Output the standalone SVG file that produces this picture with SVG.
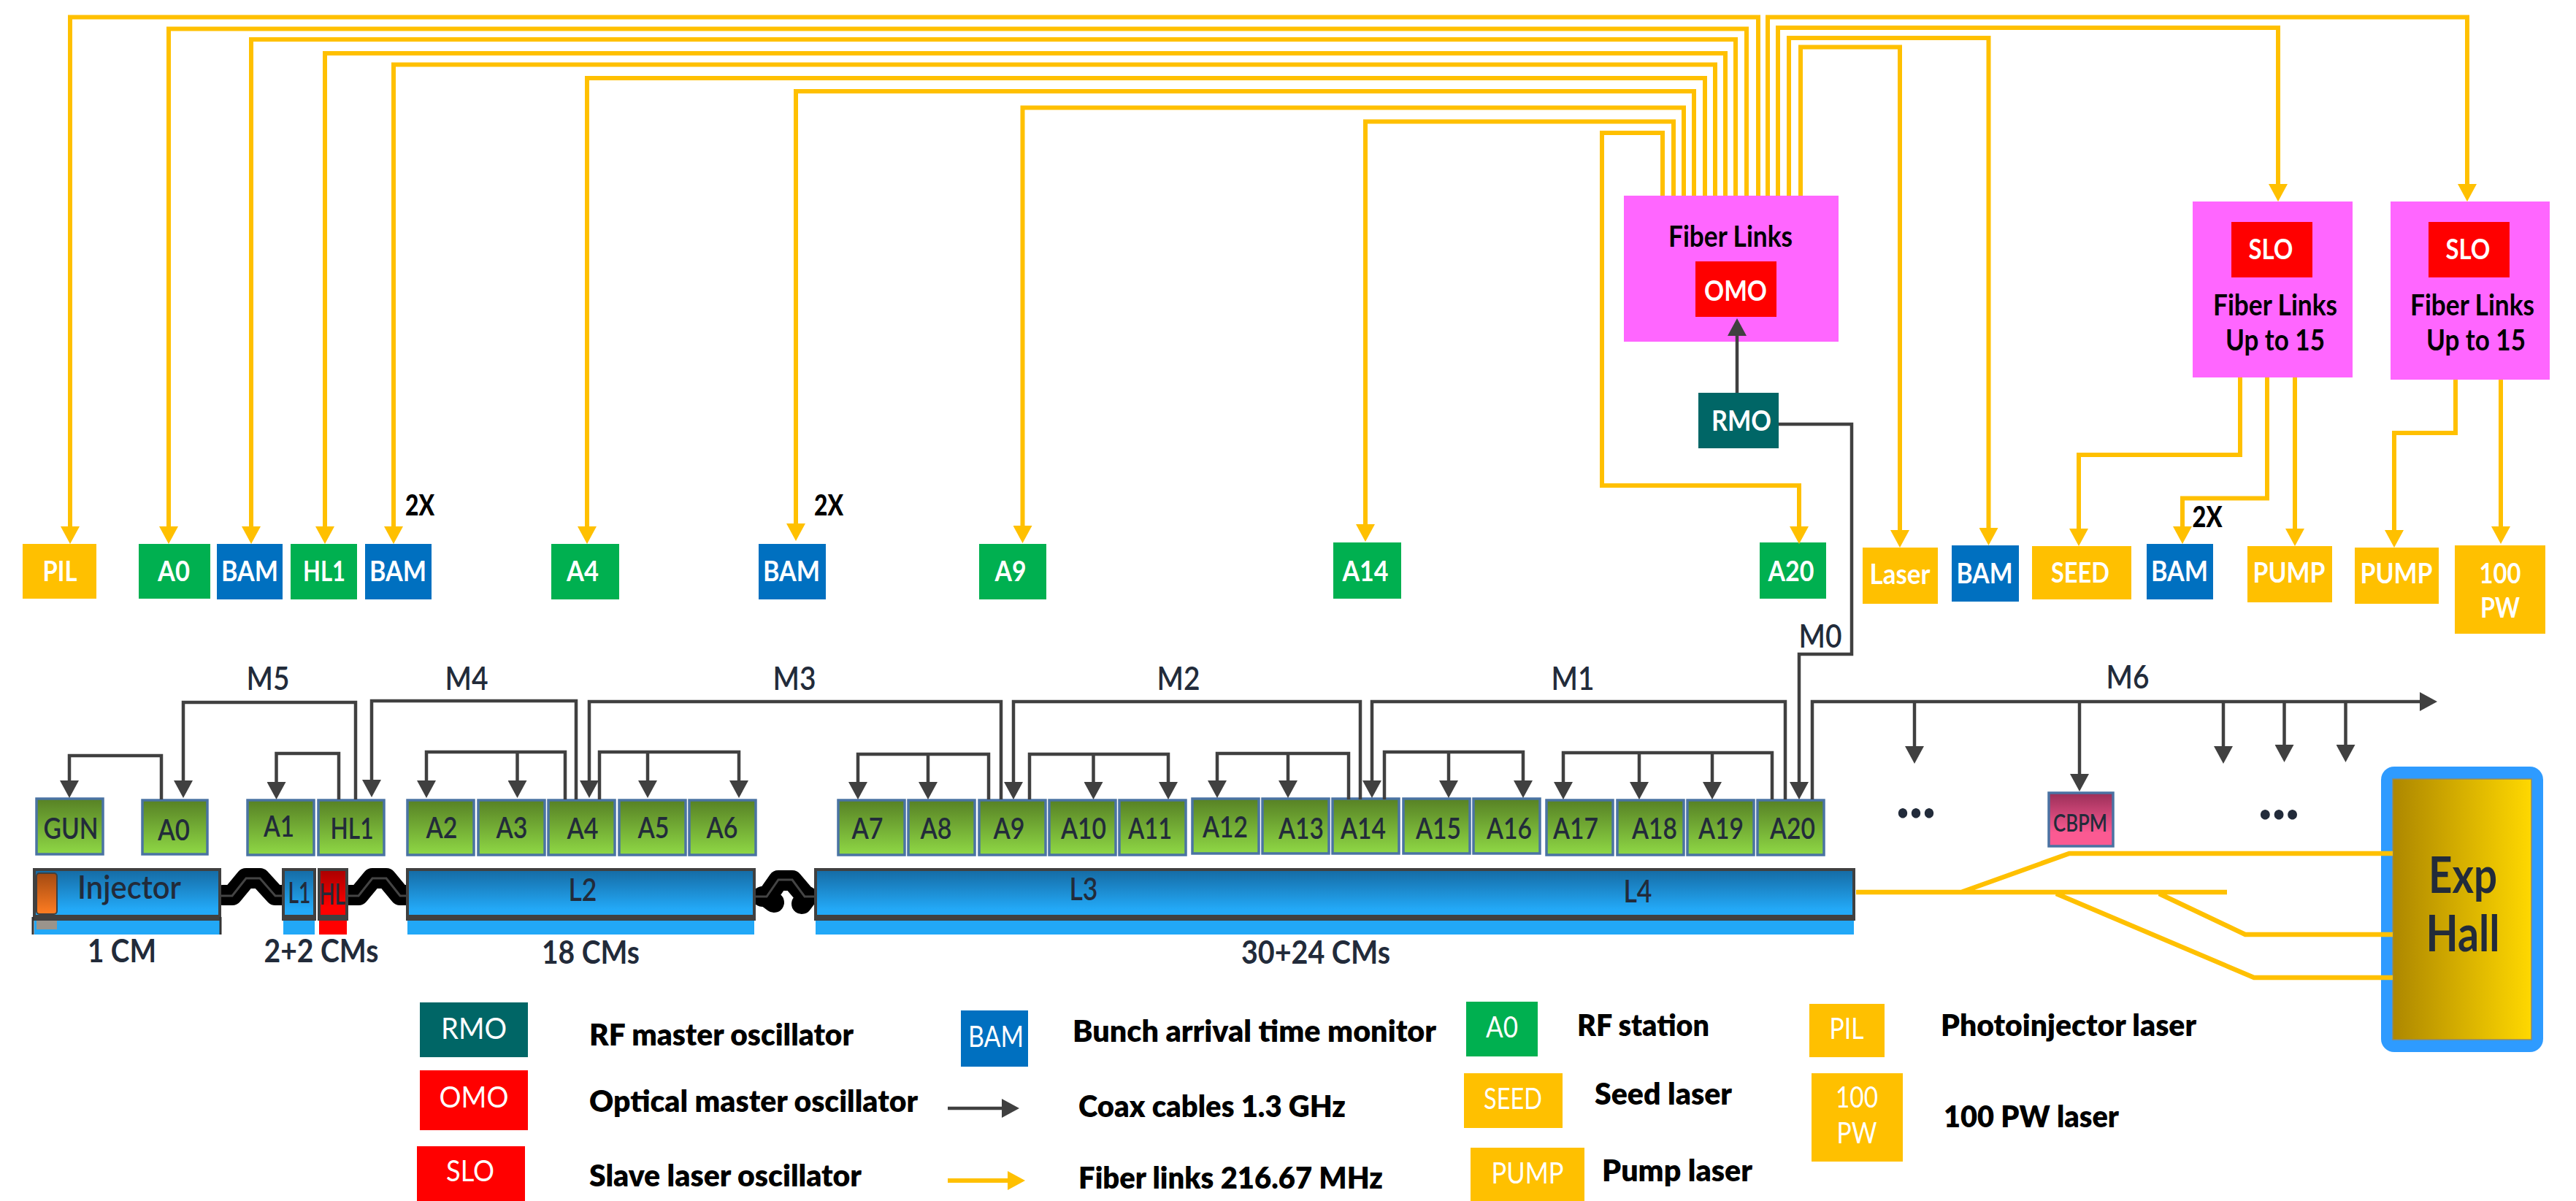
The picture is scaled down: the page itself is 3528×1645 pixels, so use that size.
<svg xmlns="http://www.w3.org/2000/svg" width="3528" height="1645" viewBox="0 0 3528 1645">
<style>
text{font-family:Lato,"Liberation Sans",Arial,sans-serif;text-anchor:middle}
.w{font-size:39px;font-weight:700;fill:#fff}
.wl{font-size:40px;font-weight:400;fill:#fff}
.d{font-size:40px;font-weight:600;fill:#222b3a}
.m{font-size:44px;font-weight:600;fill:#222b3a}
.c{font-size:43px;font-weight:700;fill:#222b3a}
.k{font-size:40px;font-weight:700;fill:#000}
.ks{font-size:40px;font-weight:900;fill:#000}
.l{font-size:41px;font-weight:800;fill:#000;text-anchor:start}
.y{fill:#FFC000}.g{fill:#00B050}.b{fill:#0070C0}.r{fill:#FF0000}.t{fill:#006666}.p{fill:#FF66FF}
.cav{fill:url(#gBox);stroke:#4a73a3;stroke-width:3.5}
.top{fill:url(#gBlue);stroke:#404040;stroke-width:4}
.topr{fill:url(#gRed);stroke:#404040;stroke-width:4}
.bot{fill:#22a8f7}
.band{fill:#404040}
.fib{fill:none;stroke:#FFC000;stroke-width:6;marker-end:url(#ya)}
.fn{fill:none;stroke:#FFC000;stroke-width:6.5}
.coax{fill:none;stroke:#404040;stroke-width:4.5;marker-end:url(#da)}
.sq{fill:none;stroke:#000;stroke-width:28;stroke-linejoin:round;stroke-linecap:round}
.sqi{fill:none;stroke:#444;stroke-width:3}
</style>
<defs>
<linearGradient id="gBox" x1="0" y1="0" x2="0" y2="1"><stop offset="0" stop-color="#578125"/><stop offset="1" stop-color="#8fd845"/></linearGradient>
<linearGradient id="gBlue" x1="0" y1="0" x2="0" y2="1"><stop offset="0" stop-color="#156aa3"/><stop offset=".85" stop-color="#23a9f7"/><stop offset="1" stop-color="#23a9f7"/></linearGradient>
<linearGradient id="gRed" x1="0" y1="0" x2="0" y2="1"><stop offset="0" stop-color="#a80000"/><stop offset=".8" stop-color="#ff0000"/><stop offset="1" stop-color="#ff0000"/></linearGradient>
<linearGradient id="gOr" x1="0" y1="0" x2="0" y2="1"><stop offset="0" stop-color="#a34a12"/><stop offset="1" stop-color="#ff7d22"/></linearGradient>
<linearGradient id="gPink" x1="0" y1="0" x2="0" y2="1"><stop offset="0" stop-color="#9a2f58"/><stop offset=".75" stop-color="#fb5a92"/><stop offset="1" stop-color="#fb5a92"/></linearGradient>
<linearGradient id="gHall" x1="0" y1="0" x2="1" y2="0"><stop offset="0" stop-color="#ad8700"/><stop offset="1" stop-color="#ffd800"/></linearGradient>
<marker id="ya" markerUnits="userSpaceOnUse" markerWidth="26" markerHeight="26" viewBox="0 0 26 26" refX="14" refY="13" orient="auto"><path d="M0 0L24 13L0 26z" fill="#FFC000"/></marker>
<marker id="da" markerUnits="userSpaceOnUse" markerWidth="26" markerHeight="26" viewBox="0 0 26 26" refX="14" refY="13" orient="auto"><path d="M0 0L24 13L0 26z" fill="#404040"/></marker>
</defs>

<g id="top-nodes">
<g id="n-pil"><rect class="y" x="31" y="745" width="101" height="75"/><text class="w" x="82" y="796" textLength="47" lengthAdjust="spacingAndGlyphs">PIL</text></g>
<g id="n-a0"><rect class="g" x="190" y="745" width="98" height="75"/><text class="w" x="238" y="796" textLength="44" lengthAdjust="spacingAndGlyphs">A0</text></g>
<g id="n-bam1"><rect class="b" x="297" y="745" width="90" height="76"/><text class="w" x="342" y="796" textLength="78" lengthAdjust="spacingAndGlyphs">BAM</text></g>
<g id="n-hl1"><rect class="g" x="398" y="745" width="91" height="76"/><text class="w" x="444" y="796" textLength="58" lengthAdjust="spacingAndGlyphs">HL1</text></g>
<g id="n-bam2"><rect class="b" x="500" y="745" width="91" height="76"/><text class="w" x="545" y="796" textLength="78" lengthAdjust="spacingAndGlyphs">BAM</text><text class="ks" x="575" y="706" textLength="40" lengthAdjust="spacingAndGlyphs">2X</text></g>
<g id="n-a4"><rect class="g" x="755" y="745" width="93" height="76"/><text class="w" x="798" y="796" textLength="44" lengthAdjust="spacingAndGlyphs">A4</text></g>
<g id="n-bam3"><rect class="b" x="1039" y="745" width="92" height="76"/><text class="w" x="1084" y="796" textLength="78" lengthAdjust="spacingAndGlyphs">BAM</text><text class="ks" x="1135" y="706" textLength="40" lengthAdjust="spacingAndGlyphs">2X</text></g>
<g id="n-a9"><rect class="g" x="1341" y="745" width="92" height="76"/><text class="w" x="1384" y="796" textLength="43" lengthAdjust="spacingAndGlyphs">A9</text></g>
<g id="n-a14"><rect class="g" x="1826" y="743" width="93" height="77"/><text class="w" x="1870" y="796" textLength="63" lengthAdjust="spacingAndGlyphs">A14</text></g>
<g id="n-a20"><rect class="g" x="2410" y="743" width="91" height="77"/><text class="w" x="2453" y="796" textLength="63" lengthAdjust="spacingAndGlyphs">A20</text></g>
<g id="n-laser"><rect class="y" x="2551" y="750" width="103" height="77"/><text class="w" x="2602" y="800" textLength="83" lengthAdjust="spacingAndGlyphs">Laser</text></g>
<g id="n-bam4"><rect class="b" x="2673" y="747" width="92" height="77"/><text class="w" x="2718" y="799" textLength="77" lengthAdjust="spacingAndGlyphs">BAM</text></g>
<g id="n-seed"><rect class="y" x="2783" y="748" width="136" height="73"/><text class="w" x="2849" y="798" textLength="80" lengthAdjust="spacingAndGlyphs">SEED</text></g>
<g id="n-bam5"><rect class="b" x="2940" y="745" width="91" height="76"/><text class="w" x="2985" y="796" textLength="78" lengthAdjust="spacingAndGlyphs">BAM</text><text class="ks" x="3023" y="722" textLength="41" lengthAdjust="spacingAndGlyphs">2X</text></g>
<g id="n-pump1"><rect class="y" x="3078" y="748" width="116" height="77"/><text class="w" x="3135" y="798" textLength="99" lengthAdjust="spacingAndGlyphs">PUMP</text></g>
<g id="n-pump2"><rect class="y" x="3225" y="750" width="115" height="77"/><text class="w" x="3282" y="799" textLength="99" lengthAdjust="spacingAndGlyphs">PUMP</text></g>
<g id="n-100pw"><rect class="y" x="3362" y="747" width="124" height="121"/><text class="w" x="3424" y="799" textLength="57" lengthAdjust="spacingAndGlyphs">100</text><text class="w" x="3424" y="846" textLength="54" lengthAdjust="spacingAndGlyphs">PW</text></g>
<g id="n-omo-box"><rect class="p" x="2224" y="268" width="294" height="200"/><text class="k" x="2370" y="338" textLength="170" lengthAdjust="spacingAndGlyphs">Fiber Links</text><rect class="r" x="2322" y="358" width="111" height="76"/><text class="w" x="2377" y="412" textLength="86" lengthAdjust="spacingAndGlyphs">OMO</text></g>
<g id="n-rmo"><rect class="t" x="2326" y="538" width="110" height="76"/><text class="w" x="2385" y="590" textLength="82" lengthAdjust="spacingAndGlyphs">RMO</text></g>
<g id="n-slo1"><rect class="p" x="3003" y="276" width="219" height="241"/><rect class="r" x="3056" y="304" width="111" height="76"/><text class="w" x="3110" y="355" textLength="61" lengthAdjust="spacingAndGlyphs">SLO</text><text class="k" x="3116" y="432" textLength="170" lengthAdjust="spacingAndGlyphs">Fiber Links</text><text class="k" x="3116" y="480" textLength="136" lengthAdjust="spacingAndGlyphs">Up to 15</text></g>
<g id="n-slo2"><rect class="p" x="3274" y="276" width="218" height="244"/><rect class="r" x="3326" y="304" width="111" height="76"/><text class="w" x="3380" y="355" textLength="61" lengthAdjust="spacingAndGlyphs">SLO</text><text class="k" x="3386" y="432" textLength="170" lengthAdjust="spacingAndGlyphs">Fiber Links</text><text class="k" x="3391" y="480" textLength="136" lengthAdjust="spacingAndGlyphs">Up to 15</text></g>
</g>

<g id="cavities">
<g id="c-gun"><rect class="cav" x="50" y="1094" width="91" height="76"/><text class="d" x="97" y="1149" textLength="75" lengthAdjust="spacingAndGlyphs">GUN</text></g>
<g id="c-a0"><rect class="cav" x="195" y="1096" width="89" height="74"/><text class="d" x="238" y="1151" textLength="44" lengthAdjust="spacingAndGlyphs">A0</text></g>
<g id="c-a1"><rect class="cav" x="339" y="1096" width="91" height="75"/><text class="d" x="382" y="1146" textLength="42" lengthAdjust="spacingAndGlyphs">A1</text></g>
<g id="c-hl1"><rect class="cav" x="436" y="1096" width="90" height="75"/><text class="d" x="482" y="1149" textLength="59" lengthAdjust="spacingAndGlyphs">HL1</text></g>
<g id="c-a2"><rect class="cav" x="558" y="1096" width="91" height="75"/><text class="d" x="605" y="1148" textLength="43" lengthAdjust="spacingAndGlyphs">A2</text></g>
<g id="c-a3"><rect class="cav" x="655" y="1096" width="91" height="75"/><text class="d" x="701" y="1148" textLength="43" lengthAdjust="spacingAndGlyphs">A3</text></g>
<g id="c-a4"><rect class="cav" x="751" y="1096" width="91" height="75"/><text class="d" x="798" y="1149" textLength="43" lengthAdjust="spacingAndGlyphs">A4</text></g>
<g id="c-a5"><rect class="cav" x="848" y="1096" width="91" height="75"/><text class="d" x="895" y="1148" textLength="43" lengthAdjust="spacingAndGlyphs">A5</text></g>
<g id="c-a6"><rect class="cav" x="944" y="1096" width="91" height="75"/><text class="d" x="989" y="1148" textLength="43" lengthAdjust="spacingAndGlyphs">A6</text></g>
<g id="c-a7"><rect class="cav" x="1148" y="1096" width="91" height="75"/><text class="d" x="1188" y="1149" textLength="43" lengthAdjust="spacingAndGlyphs">A7</text></g>
<g id="c-a8"><rect class="cav" x="1244" y="1096" width="91" height="75"/><text class="d" x="1282" y="1149" textLength="43" lengthAdjust="spacingAndGlyphs">A8</text></g>
<g id="c-a9"><rect class="cav" x="1341" y="1096" width="91" height="75"/><text class="d" x="1382" y="1149" textLength="43" lengthAdjust="spacingAndGlyphs">A9</text></g>
<g id="c-a10"><rect class="cav" x="1437" y="1096" width="91" height="75"/><text class="d" x="1484" y="1149" textLength="62" lengthAdjust="spacingAndGlyphs">A10</text></g>
<g id="c-a11"><rect class="cav" x="1533" y="1096" width="91" height="75"/><text class="d" x="1575" y="1149" textLength="60" lengthAdjust="spacingAndGlyphs">A11</text></g>
<g id="c-a12"><rect class="cav" x="1633" y="1094" width="91" height="75"/><text class="d" x="1678" y="1147" textLength="62" lengthAdjust="spacingAndGlyphs">A12</text></g>
<g id="c-a13"><rect class="cav" x="1729" y="1094" width="91" height="75"/><text class="d" x="1782" y="1149" textLength="62" lengthAdjust="spacingAndGlyphs">A13</text></g>
<g id="c-a14"><rect class="cav" x="1825" y="1094" width="91" height="75"/><text class="d" x="1867" y="1149" textLength="62" lengthAdjust="spacingAndGlyphs">A14</text></g>
<g id="c-a15"><rect class="cav" x="1922" y="1094" width="91" height="75"/><text class="d" x="1970" y="1149" textLength="62" lengthAdjust="spacingAndGlyphs">A15</text></g>
<g id="c-a16"><rect class="cav" x="2018" y="1094" width="91" height="75"/><text class="d" x="2067" y="1149" textLength="62" lengthAdjust="spacingAndGlyphs">A16</text></g>
<g id="c-a17"><rect class="cav" x="2118" y="1096" width="91" height="75"/><text class="d" x="2158" y="1149" textLength="62" lengthAdjust="spacingAndGlyphs">A17</text></g>
<g id="c-a18"><rect class="cav" x="2215" y="1096" width="91" height="75"/><text class="d" x="2266" y="1149" textLength="62" lengthAdjust="spacingAndGlyphs">A18</text></g>
<g id="c-a19"><rect class="cav" x="2311" y="1096" width="91" height="75"/><text class="d" x="2357" y="1149" textLength="62" lengthAdjust="spacingAndGlyphs">A19</text></g>
<g id="c-a20"><rect class="cav" x="2407" y="1096" width="91" height="75"/><text class="d" x="2455" y="1149" textLength="62" lengthAdjust="spacingAndGlyphs">A20</text></g>
<g id="c-cbpm"><rect x="2806" y="1086" width="88" height="73" fill="url(#gPink)" stroke="#4a73a3" stroke-width="3.5"/><text class="d" x="2849" y="1139" style="font-size:32px" textLength="74" lengthAdjust="spacingAndGlyphs">CBPM</text></g>
</g>

<g id="linac">
<path class="sq" d="M305 1226H318L337 1203H356L377 1226H386"/><path class="sqi" d="M303 1227H318L337 1203H356L377 1227H387"/>
<path class="sq" d="M478 1226H491L510 1203H529L548 1226H556"/><path class="sqi" d="M476 1227H491L510 1203H529L548 1227H558"/>
<path class="sq" d="M1044 1228L1052 1226L1066 1206H1085L1102 1226L1106 1228M1052 1230L1060 1236M1104 1230L1098 1238"/><path class="sqi" d="M1034 1228H1050L1066 1205H1085L1102 1228H1116"/>
<g id="n-injector"><rect class="top" x="47" y="1191" width="254" height="64"/><rect class="bot" x="47" y="1261" width="254" height="19"/><rect x="50" y="1196" width="28" height="56" rx="4" fill="url(#gOr)" stroke="#404040" stroke-width="2"/><rect x="50" y="1257" width="28" height="16" fill="#b98e70" opacity=".8"/><rect class="band" x="45" y="1254" width="258" height="7"/><path d="M45 1256V1280M302 1256V1280" stroke="#333" stroke-width="3"/><text class="d" x="177" y="1231" textLength="142" lengthAdjust="spacingAndGlyphs" style="font-size:44px">Injector</text></g>
<g id="n-l1"><rect class="top" x="388" y="1191" width="43" height="64"/><rect class="bot" x="388" y="1261" width="43" height="19"/><rect class="band" x="386" y="1254" width="47" height="7"/><text class="d" x="410" y="1237" textLength="31" lengthAdjust="spacingAndGlyphs">L1</text></g>
<g id="n-hl"><rect class="topr" x="437" y="1191" width="38" height="64"/><rect x="437" y="1261" width="38" height="19" fill="#f00"/><rect class="band" x="435" y="1254" width="42" height="7"/><text class="d" x="455" y="1239" textLength="35" lengthAdjust="spacingAndGlyphs">HL</text></g>
<g id="n-l2"><rect class="top" x="558" y="1191" width="475" height="64"/><rect class="bot" x="558" y="1261" width="475" height="19"/><rect class="band" x="556" y="1254" width="479" height="7"/><text class="d" x="798" y="1234" textLength="39" lengthAdjust="spacingAndGlyphs" style="font-size:42px">L2</text></g>
<g id="n-l34"><rect class="top" x="1117" y="1191" width="1422" height="64"/><rect class="bot" x="1117" y="1261" width="1422" height="19"/><rect class="band" x="1115" y="1254" width="1426" height="7"/><text class="d" x="1484" y="1233" textLength="39" lengthAdjust="spacingAndGlyphs" style="font-size:42px">L3</text><text class="d" x="2243" y="1236" textLength="39" lengthAdjust="spacingAndGlyphs" style="font-size:42px">L4</text></g>
<g id="n-hall"><rect x="3261" y="1050" width="222" height="391" rx="18" fill="#2e9bff"/><rect x="3277" y="1067" width="190" height="357" fill="url(#gHall)" stroke="#8a8a70" stroke-width="1.5"/><text x="3373" y="1223" textLength="94" lengthAdjust="spacingAndGlyphs" style="font-size:68px;font-weight:700;fill:#222b3a">Exp</text><text x="3373" y="1303" textLength="101" lengthAdjust="spacingAndGlyphs" style="font-size:68px;font-weight:700;fill:#222b3a">Hall</text></g>
<text class="c" x="167" y="1318" textLength="94" lengthAdjust="spacingAndGlyphs">1 CM</text>
<text class="c" x="440" y="1318" textLength="157" lengthAdjust="spacingAndGlyphs">2+2 CMs</text>
<text class="c" x="809" y="1320" textLength="134" lengthAdjust="spacingAndGlyphs">18 CMs</text>
<text class="c" x="1802" y="1320" textLength="204" lengthAdjust="spacingAndGlyphs">30+24 CMs</text>
<text class="m" x="367" y="945" textLength="59" lengthAdjust="spacingAndGlyphs">M5</text>
<text class="m" x="639" y="945" textLength="59" lengthAdjust="spacingAndGlyphs">M4</text>
<text class="m" x="1088" y="945" textLength="59" lengthAdjust="spacingAndGlyphs">M3</text>
<text class="m" x="1614" y="945" textLength="59" lengthAdjust="spacingAndGlyphs">M2</text>
<text class="m" x="2154" y="945" textLength="59" lengthAdjust="spacingAndGlyphs">M1</text>
<text class="m" x="2914" y="943" textLength="59" lengthAdjust="spacingAndGlyphs">M6</text>
<text class="m" x="2493" y="887" textLength="59" lengthAdjust="spacingAndGlyphs">M0</text>
<text x="2624" y="1120" textLength="54" lengthAdjust="spacingAndGlyphs" style="font-size:84px;font-weight:900;fill:#222b3a">...</text>
<text x="3121" y="1122" textLength="56" lengthAdjust="spacingAndGlyphs" style="font-size:84px;font-weight:900;fill:#222b3a">...</text>
</g>

<g id="connectors">
<path class="fib" d="M2408 268V23.5H96V735"/>
<path class="fib" d="M2392 268V39.5H231V735"/>
<path class="fib" d="M2377 268V54H344V735"/>
<path class="fib" d="M2363 268V73H445V735"/>
<path class="fib" d="M2349 268V88.5H539V735"/>
<path class="fib" d="M2335 268V107H804V735"/>
<path class="fib" d="M2320 268V125H1090V731"/>
<path class="fib" d="M2306 268V147.5H1400.500V734"/>
<path class="fib" d="M2292 268V166.500H1870V732"/>
<path class="fib" d="M2277 268V182H2194V665H2464V735"/>
<path class="fib" d="M2421 268V23.500H3379V266"/>
<path class="fib" d="M2435 268V38H3120V266"/>
<path class="fib" d="M2450 268V52H2723.500V737"/>
<path class="fib" d="M2466 268V64.500H2602V740"/>
<path class="fib" d="M3068 517V623H2847V738"/>
<path class="fib" d="M3105 517V682.500H2989V735"/>
<path class="fib" d="M3143 517V738"/>
<path class="fib" d="M3363 520V593H3279V740"/>
<path class="fib" d="M3425 520V735"/>
<path class="fn" d="M2542 1222H3050M2686 1222L2834 1169H3277M2816 1224L3087 1339H3277M2957 1224L3075 1280H3277"/>
<path class="coax" d="M2379 538V446"/>
<path class="coax" d="M2436 581H2536V896H2464V1085"/>
<path class="coax" d="M221 1095V1035H95V1083"/>
<path class="coax" d="M487 1095V962H251V1083"/>
<path class="coax" d="M464 1095V1032H378.500V1085"/>
<path class="coax" d="M789 1095V960H509V1082"/>
<path class="coax" d="M774 1095V1030H584V1083"/>
<path class="coax" d="M708.500 1030V1083"/>
<path class="coax" d="M821 1095V1030H1012V1083"/>
<path class="coax" d="M887 1030V1083"/>
<path class="coax" d="M1371 1095V961H807V1083"/>
<path class="coax" d="M1354 1095V1033H1175V1085"/>
<path class="coax" d="M1271 1033V1085"/>
<path class="coax" d="M1863 1095V961H1388V1085"/>
<path class="coax" d="M1410 1095V1033H1600V1085"/>
<path class="coax" d="M1497.500 1033V1085"/>
<path class="coax" d="M1847 1095V1032H1667V1083"/>
<path class="coax" d="M1764 1032V1083"/>
<path class="coax" d="M2445 1095V961H1879V1083"/>
<path class="coax" d="M1896 1095V1030H2086V1083"/>
<path class="coax" d="M1984 1030V1083"/>
<path class="coax" d="M2427 1095V1031H2141V1085"/>
<path class="coax" d="M2245 1031V1085"/>
<path class="coax" d="M2345 1031V1085"/>
<path class="coax" d="M2482 1095V961H3328"/>
<path class="coax" d="M2622 961V1036"/>
<path class="coax" d="M2848 961V1074"/>
<path class="coax" d="M3045 961V1036"/>
<path class="coax" d="M3128.500 961V1034"/>
<path class="coax" d="M3212.500 961V1034"/>
</g>

<g id="legend">
<g id="l-rmo"><rect class="t" x="575" y="1373" width="148" height="75"/><text class="wl" x="649" y="1423" textLength="90" lengthAdjust="spacingAndGlyphs">RMO</text></g>
<text class="l" x="807" y="1432" textLength="362" lengthAdjust="spacingAndGlyphs">RF master oscillator</text>
<g id="l-omo"><rect class="r" x="575" y="1466" width="148" height="82"/><text class="wl" x="649" y="1517" textLength="95" lengthAdjust="spacingAndGlyphs">OMO</text></g>
<text class="l" x="807" y="1523" textLength="450" lengthAdjust="spacingAndGlyphs">Optical master oscillator</text>
<g id="l-slo"><rect class="r" x="571" y="1570" width="148" height="75"/><text class="wl" x="644" y="1618" textLength="66" lengthAdjust="spacingAndGlyphs">SLO</text></g>
<text class="l" x="807" y="1625" textLength="373" lengthAdjust="spacingAndGlyphs">Slave laser oscillator</text>
<g id="l-bam"><rect class="b" x="1316" y="1384" width="92" height="77"/><text class="wl" x="1364" y="1434" textLength="76" lengthAdjust="spacingAndGlyphs">BAM</text></g>
<text class="l" x="1469" y="1427" textLength="498" lengthAdjust="spacingAndGlyphs">Bunch arrival time monitor</text>
<path class="coax" d="M1298 1518H1386"/>
<text class="l" x="1477" y="1530" textLength="366" lengthAdjust="spacingAndGlyphs">Coax cables 1.3 GHz</text>
<path class="fib" d="M1298 1617H1394"/>
<text class="l" x="1477" y="1628" textLength="417" lengthAdjust="spacingAndGlyphs">Fiber links 216.67 MHz</text>
<g id="l-a0"><rect class="g" x="2008" y="1372" width="98" height="75"/><text class="wl" x="2057" y="1421" textLength="44" lengthAdjust="spacingAndGlyphs">A0</text></g>
<text class="l" x="2160" y="1419" textLength="181" lengthAdjust="spacingAndGlyphs">RF station</text>
<g id="l-seed"><rect class="y" x="2005" y="1470" width="135" height="75"/><text class="wl" x="2072" y="1519" textLength="80" lengthAdjust="spacingAndGlyphs">SEED</text></g>
<text class="l" x="2184" y="1513" textLength="188" lengthAdjust="spacingAndGlyphs">Seed laser</text>
<g id="l-pump"><rect class="y" x="2014" y="1572" width="156" height="73"/><text class="wl" x="2092" y="1621" textLength="99" lengthAdjust="spacingAndGlyphs">PUMP</text></g>
<text class="l" x="2194" y="1618" textLength="206" lengthAdjust="spacingAndGlyphs">Pump laser</text>
<g id="l-pil"><rect class="y" x="2478" y="1375" width="103" height="73"/><text class="wl" x="2529" y="1423" textLength="47" lengthAdjust="spacingAndGlyphs">PIL</text></g>
<text class="l" x="2658" y="1419" textLength="350" lengthAdjust="spacingAndGlyphs">Photoinjector laser</text>
<g id="l-100"><rect class="y" x="2481" y="1470" width="125" height="121"/><text class="wl" x="2543" y="1517" textLength="58" lengthAdjust="spacingAndGlyphs">100</text><text class="wl" x="2543" y="1566" textLength="55" lengthAdjust="spacingAndGlyphs">PW</text></g>
<text class="l" x="2662" y="1544" textLength="240" lengthAdjust="spacingAndGlyphs">100 PW laser</text>
</g>
</svg>
